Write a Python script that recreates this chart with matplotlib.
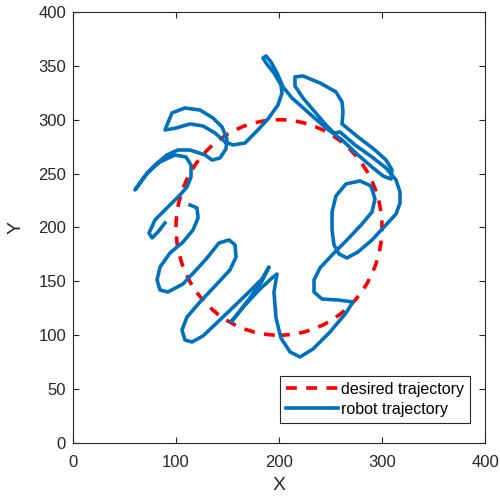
import numpy as np
import matplotlib
matplotlib.use('Agg')
import matplotlib.pyplot as plt
from matplotlib.patches import Circle
from matplotlib.lines import Line2D

plt.rcParams['font.family'] = ['Liberation Sans', 'DejaVu Sans']

# desired trajectory: circle
cx, cy, r = 200, 200, 100

# robot trajectory
xr = [89.3, 82.5, 76.7, 73.8, 79.6, 92.2, 103.9, 110.7, 114.6, 114.6, 109.7, 99.0, 84.5, 72.8, 60.2,
      69.9, 80.6, 91.3, 101.9, 113.6, 128.2, 135.0, 142.7, 148.5, 149.5, 144.7, 135.9, 123.3, 108.7, 96.1,
      89.3, 100.0, 113.6, 126.2, 137.9, 147.6, 155.3, 167.0, 178.6, 189.3, 199.0, 202.9, 201.9, 195.1, 187.4,
      184.5, 187.4, 192.2, 198.1, 203.9, 212.6, 230.1, 245.6, 261.2, 276.7, 290.3, 301.0, 308.7, 309.7, 303.9,
      293.2, 276.7, 261.2, 262.1, 261.2, 255.3, 239.8, 223.3, 215.5, 215.5, 223.3, 234.0, 245.6, 253.4, 259.2,
      273.8, 290.3, 303.9, 313.6, 317.5, 317.5, 313.6, 302.9, 290.3, 276.7, 266.0, 258.3, 253.4, 251.5, 251.5,
      255.3, 265.0, 278.6, 289.3, 293.2, 290.3, 280.6, 266.0, 252.4, 239.8, 234.0, 234.0, 241.7, 257.3, 271.8,
      265.0, 249.5, 233.0, 220.4, 210.7, 201.9, 197.1, 195.1, 198.1, 193.2, 181.6, 167.0, 157.3, 153.4, 158.3,
      171.8, 183.5, 190.3, 183.5, 168.9, 145.6, 126.2, 115.5, 108.7, 105.8, 110.7, 123.3, 139.8, 152.4, 158.3,
      157.3, 151.5, 141.7, 130.1, 121.4, 106.8, 92.2, 84.5, 81.6, 84.5, 94.2, 106.8, 116.5, 121.4, 120.4, 113.6]
yr = [204.2, 195.8, 190.3, 194.9, 207.0, 219.0, 230.2, 237.6, 246.9, 258.0, 265.4, 267.3, 260.8, 251.5, 234.8,
      247.8, 258.9, 267.3, 271.9, 271.9, 267.3, 262.6, 264.5, 272.9, 282.1, 293.3, 301.6, 309.0, 310.9, 306.3,
      290.5, 292.3, 296.1, 294.2, 287.7, 279.4, 276.6, 278.4, 289.6, 300.7, 313.7, 324.8, 332.3, 343.4, 352.7,
      357.3, 359.2, 353.6, 343.4, 330.4, 320.2, 305.3, 292.3, 281.2, 267.3, 256.1, 247.8, 245.0, 253.4, 262.6,
      271.9, 284.0, 296.1, 307.2, 316.5, 325.8, 334.1, 340.6, 339.7, 331.3, 320.2, 308.1, 295.1, 287.7, 288.6,
      276.6, 265.4, 255.2, 244.1, 232.9, 222.7, 212.5, 201.4, 188.4, 177.3, 171.7, 175.4, 183.8, 197.7, 214.4,
      229.2, 240.4, 243.2, 238.5, 226.5, 214.4, 203.2, 188.4, 175.4, 162.4, 151.3, 140.1, 133.6, 132.7, 130.9,
      120.6, 103.0, 87.2, 79.8, 84.5, 97.4, 116.0, 140.1, 156.8, 153.1, 142.9, 128.1, 116.9, 112.3, 117.9,
      134.6, 150.3, 163.3, 152.2, 138.3, 116.9, 99.3, 93.7, 95.6, 104.9, 116.9, 130.9, 147.6, 160.6, 172.6,
      183.8, 188.4, 185.6, 171.7, 162.4, 147.6, 140.1, 142.0, 151.3, 163.3, 176.3, 186.5, 197.7, 208.8, 218.1, 220.9]

blue = '#0072BD'
red = '#FF0000'
grey = '#262626'
lw = 2.6

fig = plt.figure(figsize=(5.0, 4.97), dpi=100)
ax = fig.add_axes([0.146, 0.1087, 0.824, 0.8672])

circ = Circle((cx, cy), r, fill=False, edgecolor=red, linewidth=lw,
              linestyle=(0, (3.0, 2.6)), zorder=2)
ax.add_patch(circ)
ax.plot(xr, yr, color=blue, linewidth=lw, solid_joinstyle='round', zorder=3)

h1 = Line2D([], [], color=red, linewidth=lw, linestyle=(0, (3.0, 2.6)))
h2 = Line2D([], [], color=blue, linewidth=lw)
leg = ax.legend([h1, h2], ['desired trajectory', 'robot trajectory'], loc='lower right',
                bbox_to_anchor=(0.964, 0.046), fontsize=11.5, handlelength=3.2, handletextpad=0.2,
                borderpad=0.4, labelspacing=0.3, fancybox=False, edgecolor=grey, framealpha=1,
                borderaxespad=0)
leg.get_frame().set_linewidth(0.8)

ax.set_xlim(0, 400)
ax.set_ylim(0, 400)
ax.set_xticks(np.arange(0, 401, 100))
ax.set_yticks(np.arange(0, 401, 50))
ax.tick_params(direction='in', length=4, width=0.8, top=True, right=True,
               labelsize=12, colors=grey)
ax.tick_params(axis='x', pad=9)
ax.tick_params(axis='y', pad=5)
for s in ax.spines.values():
    s.set_color(grey)
    s.set_linewidth(0.8)
ax.set_xlabel('X', fontsize=14, color=grey, labelpad=5)
ax.set_ylabel('Y', fontsize=14, color=grey, labelpad=10)

plt.savefig('out.png', dpi=100)
